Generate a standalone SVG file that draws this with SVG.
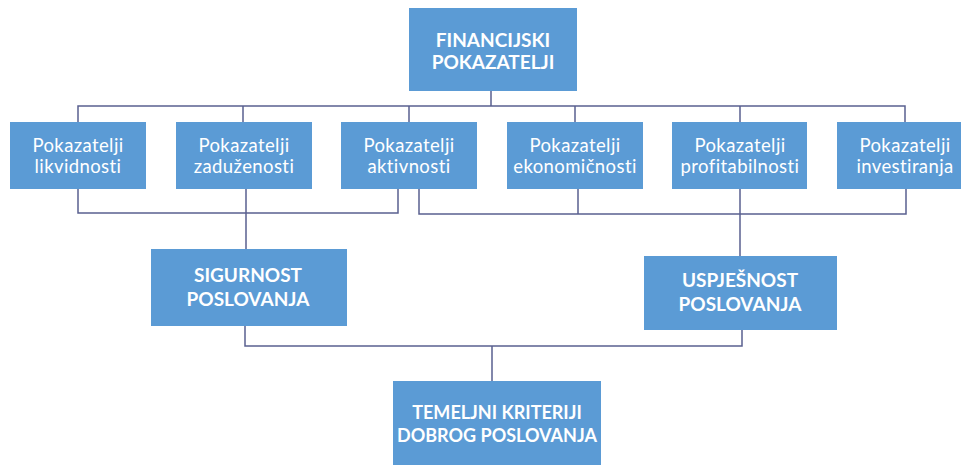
<svg xmlns="http://www.w3.org/2000/svg" width="961" height="465" viewBox="0 0 961 465">
<style>
.box{fill:#5B9BD5}
.t{fill:#ffffff;font-family:Lato,"Liberation Sans",sans-serif;text-anchor:middle}
.r{font-size:18.5px;letter-spacing:0.4px}
.b{font-size:19px;font-weight:bold}
.s{font-size:18px}
.c{fill:none;stroke:#5A6090;stroke-width:1.5}
</style>
<rect width="961" height="465" fill="#ffffff"/>
<g id="connectors">
<path class="c" d="M491 91V106M78 122V106H905V122M243 106V122M409 106V122M575 106V122M740 106V122"/>
<path class="c" d="M78 189V213H398V189M246 189V249"/>
<path class="c" d="M419 189V214H906V189M578 189V214M740 189V256"/>
<path class="c" d="M245 326V346H742V330M492 346V381"/>
</g>
<g id="financijski"><rect class="box" x="409" y="8" width="168" height="83"/><text class="t b" x="493" y="46.5">FINANCIJSKI</text><text class="t b" x="493" y="68.5">POKAZATELJI</text></g>
<g id="likvidnost"><rect class="box" x="10" y="122" width="136" height="67"/><text class="t r" x="78" y="151.5">Pokazatelji</text><text class="t r" x="78" y="173">likvidnosti</text></g>
<g id="zaduzenost"><rect class="box" x="176" y="122" width="136" height="67"/><text class="t r" x="244" y="151.5">Pokazatelji</text><text class="t r" x="244" y="173">zaduženosti</text></g>
<g id="aktivnost"><rect class="box" x="341" y="122" width="136" height="67"/><text class="t r" x="409" y="151.5">Pokazatelji</text><text class="t r" x="409" y="173">aktivnosti</text></g>
<g id="ekonomicnost"><rect class="box" x="507" y="122" width="136" height="67"/><text class="t r" x="575" y="151.5">Pokazatelji</text><text class="t r" x="575" y="173">ekonomičnosti</text></g>
<g id="profitabilnost"><rect class="box" x="672" y="122" width="135" height="67"/><text class="t r" x="740" y="151.5">Pokazatelji</text><text class="t r" x="740" y="173">profitabilnosti</text></g>
<g id="investiranje"><rect class="box" x="837" y="122" width="136" height="67"/><text class="t r" x="905" y="151.5">Pokazatelji</text><text class="t r" x="905" y="173">investiranja</text></g>
<g id="sigurnost"><rect class="box" x="151" y="249" width="196" height="77"/><text class="t b" x="248" y="282">SIGURNOST</text><text class="t b" x="248" y="306">POSLOVANJA</text></g>
<g id="uspjesnost"><rect class="box" x="644" y="256" width="193" height="74"/><text class="t b" x="740" y="287">USPJEŠNOST</text><text class="t b" x="740" y="311">POSLOVANJA</text></g>
<g id="temeljni"><rect class="box" x="393" y="381" width="208" height="84"/><text class="t b s" x="497" y="419">TEMELJNI KRITERIJI</text><text class="t b s" x="497" y="442">DOBROG POSLOVANJA</text></g>
</svg>
